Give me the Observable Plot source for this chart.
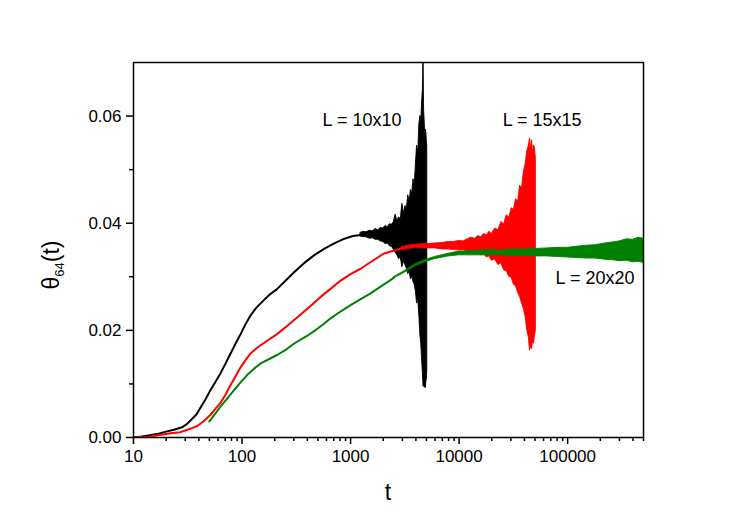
<!DOCTYPE html>
<html><head><meta charset="utf-8">
<script src="https://cdn.jsdelivr.net/npm/d3@7"></script>
<script src="https://cdn.jsdelivr.net/npm/@observablehq/plot@0.6"></script>
<style>body{margin:0;background:#fff}#chart{width:747px;height:524px}</style>
</head><body><div id="chart"></div>
<script>
// ---- Data ----
// L = 10x10 (black), smooth part
const blackT = [10,12,14,17,20,24,28,31,34,38,42,46,51,57,63,70,78,87,97,108,120,135,158,180,210,250,300,370,460,570,700,850,1050,1240];
const blackY = [0,0.0002,0.0004,0.0007,0.0011,0.0015,0.0019,0.0025,0.0033,0.0043,0.0058,0.0071,0.0088,0.0104,0.0119,0.0137,0.0156,0.0175,0.0193,0.0212,0.0228,0.0242,0.0256,0.0267,0.0277,0.0292,0.0308,0.0325,0.034,0.0352,0.0362,0.037,0.0376,0.0378];
// L = 10x10 fluctuating part (envelope)
const blackBandT  = [1240,1320,1400,1500,1600,1700,1800,1900,2000,2100,2200,2300,2400,2500,2600,2700,2800,2900,3000,3100,3200,3300,3400,3500,3600,3700,3800,3900,4000,4100,4200,4300,4400,4480,4560,4640,4700,4760,4820,4880,4940,5000,5050,5090];
const blackBandHi = [0.0382,0.0384,0.0383,0.0386,0.0385,0.0389,0.0387,0.0391,0.039,0.0395,0.0392,0.0398,0.0397,0.0402,0.0416,0.0404,0.0411,0.0407,0.0436,0.0418,0.0432,0.0426,0.0452,0.044,0.0462,0.0455,0.0482,0.047,0.051,0.0545,0.053,0.0585,0.06,0.059,0.0625,0.065,0.072,0.061,0.059,0.056,0.0575,0.0568,0.055,0.0545];
const blackBandLo = [0.0375,0.0374,0.0374,0.0371,0.0372,0.0369,0.0369,0.0366,0.0365,0.0361,0.0362,0.0357,0.0356,0.0351,0.0345,0.034,0.0333,0.0336,0.0318,0.0328,0.0322,0.0315,0.0305,0.031,0.0295,0.03,0.029,0.0285,0.0272,0.025,0.0258,0.0228,0.019,0.0175,0.0145,0.012,0.0095,0.01,0.0093,0.0098,0.0092,0.0105,0.011,0.0125];

// L = 15x15 (red), smooth part
const redT = [10,14,18,22,27,31,35,39,44,51,57,63,70,78,87,97,108,120,135,150,175,210,260,322,420,527,650,810,1000,1236,1600,2014,2500,3000];
const redY = [0,0.0002,0.0005,0.0008,0.001,0.0014,0.0018,0.0022,0.003,0.0042,0.0054,0.0064,0.0079,0.0097,0.0114,0.0131,0.0145,0.0157,0.0166,0.0173,0.0182,0.0193,0.0208,0.0224,0.0244,0.0262,0.0277,0.0293,0.0305,0.0315,0.033,0.0343,0.0349,0.0353];
// L = 15x15 fluctuating part (envelope)
const redBandT  = [3000,4000,5000,6000,7000,8000,9000,10000,11000,12000,13000,14000,15000,16000,17000,18000,19000,20000,21500,23000,24500,26000,27500,29000,30500,32000,33500,35000,36500,38000,39500,41000,42500,44000,45000,46000,47000,48000,49000,50000,51000];
const redBandHi = [0.0356,0.036,0.0361,0.0362,0.0363,0.0365,0.0365,0.0367,0.0366,0.037,0.0373,0.0371,0.0376,0.0374,0.038,0.0377,0.0384,0.038,0.039,0.0387,0.0402,0.0398,0.0415,0.041,0.0428,0.0425,0.0445,0.044,0.047,0.0465,0.0495,0.051,0.0535,0.0545,0.0558,0.054,0.0555,0.053,0.0545,0.054,0.052];
const redBandLo = [0.0350,0.0354,0.0353,0.0353,0.0351,0.0351,0.035,0.0349,0.035,0.0347,0.0347,0.0344,0.0345,0.034,0.0343,0.0336,0.0338,0.033,0.0332,0.0322,0.0325,0.0312,0.031,0.03,0.0298,0.0285,0.0282,0.027,0.0262,0.025,0.024,0.0225,0.02,0.0185,0.0162,0.017,0.0165,0.018,0.0175,0.019,0.02];

// L = 20x20 (green), smooth part
const greenT = [50,56,63,72,84,97,112,130,150,180,210,250,300,350,400,480,566,650,753,870,1000,1500,2000,2500];
const greenY = [0.003,0.0043,0.0057,0.0071,0.0088,0.0103,0.0117,0.0129,0.0139,0.0147,0.0154,0.0163,0.0175,0.0183,0.019,0.0201,0.0212,0.0222,0.0231,0.0239,0.0247,0.0268,0.0285,0.0298];
// L = 20x20 fluctuating part (envelope)
const greenBandT  = [2500,3000,4000,5000,6000,8000,10000,13000,16000,20000,25000,30000,40000,50000,65000,80000,100000,120000,150000,180000,220000,260000,300000,350000,400000,450000,500000];
const greenBandHi = [0.0299,0.0308,0.0324,0.0332,0.0337,0.0343,0.0347,0.0348,0.0349,0.035,0.0349,0.0351,0.0351,0.0352,0.0353,0.0354,0.0354,0.0356,0.0358,0.0359,0.0362,0.0364,0.0366,0.037,0.0369,0.0373,0.0371];
const greenBandLo = [0.0297,0.0305,0.032,0.0328,0.0333,0.0338,0.034,0.034,0.034,0.034,0.034,0.0339,0.0339,0.0338,0.0338,0.0337,0.0336,0.0335,0.0334,0.0334,0.0332,0.0331,0.0329,0.033,0.0327,0.0328,0.0326];

// Labels
const seriesLabels = ["L = 10x10", "L = 15x15", "L = 20x20"];
const labelT = [552, 25180, 77450];
const labelY = [0.0582, 0.0582, 0.0287];

// Ticks
const xMajorTicks = [10, 100, 1000, 10000, 100000];
const xMajorLabels = ["10", "100", "1000", "10000", "100000"];
const xMinorTicks = [20,30,40,50,60,70,80,90,200,300,400,500,600,700,800,900,2000,3000,4000,5000,6000,7000,8000,9000,20000,30000,40000,50000,60000,70000,80000,90000,200000,300000,400000,500000];
const yMajorTicks = [0, 0.02, 0.04, 0.06];
const yMajorLabels = ["0.00", "0.02", "0.04", "0.06"];
const yMinorTicks = [0.01, 0.03, 0.05];

// ---- Build tables ----
const line = (T, Y) => T.map((t, i) => ({t, y: Y[i]}));
const band = (T, H, L) => T.map((t, i) => ({t, hi: H[i], lo: L[i]}));
const blackLine = line(blackT, blackY), redLine = line(redT, redY), greenLine = line(greenT, greenY);
const blackBand = band(blackBandT, blackBandHi, blackBandLo);
const redBand = band(redBandT, redBandHi, redBandLo);
const greenBand = band(greenBandT, greenBandHi, greenBandLo);
const labels = seriesLabels.map((s, i) => ({s, t: labelT[i], y: labelY[i]}));

const colors = {black: "#000000", red: "#ff0000", green: "#008000"};

function series(lineData, bandData, color) {
  return [
    Plot.line(lineData, {x: "t", y: "y", stroke: color, strokeWidth: 2, clip: true}),
    Plot.areaY(bandData, {x: "t", y1: "lo", y2: "hi", fill: color, stroke: color, strokeWidth: 0.9, clip: true})
  ];
}

const plot = Plot.plot({
  width: 747, height: 524,
  marginLeft: 133, marginRight: 104, marginTop: 62, marginBottom: 87,
  style: {fontFamily: "Arial, 'Liberation Sans', sans-serif", fontSize: "17px", color: "black", background: "white"},
  x: {type: "log", domain: [10, 500000]},
  y: {domain: [0, 0.07]},
  marks: [
    ...series(blackLine, blackBand, colors.black),
    ...series(redLine, redBand, colors.red),
    ...series(greenLine, greenBand, colors.green),
    Plot.text(labels, {x: "t", y: "y", text: "s", textAnchor: "start", lineAnchor: "bottom", fontSize: 18, fill: "black"}),
    Plot.axisX({ticks: xMajorTicks, tickSize: 7, tickPadding: 5, strokeWidth: 1.5, label: null,
      tickFormat: d => xMajorLabels[xMajorTicks.indexOf(d)], fontSize: 17}),
    Plot.axisX({ticks: xMinorTicks, tickSize: 4, strokeWidth: 1.5, label: null, tickFormat: () => ""}),
    Plot.axisY({ticks: yMajorTicks, tickSize: 7, tickPadding: 5, strokeWidth: 1.5, label: null,
      tickFormat: d => yMajorLabels[yMajorTicks.indexOf(d)], fontSize: 17}),
    Plot.axisY({ticks: yMinorTicks, tickSize: 4, strokeWidth: 1.5, label: null, tickFormat: () => ""}),
    Plot.frame({stroke: "black", strokeWidth: 1.5})
  ]
});

const svg = d3.select(plot);
// x axis title
svg.append("text")
  .attr("x", 388).attr("y", 500)
  .attr("text-anchor", "middle")
  .attr("font-family", "Arial, 'Liberation Sans', sans-serif")
  .attr("font-size", 23).attr("fill", "black")
  .text("t");
// y axis title with subscript
const yt = svg.append("text")
  .attr("transform", "translate(59,265) rotate(-90)")
  .attr("text-anchor", "middle")
  .attr("font-family", "Arial, 'Liberation Sans', sans-serif")
  .attr("font-size", 23).attr("fill", "black");
yt.append("tspan").text("θ");
yt.append("tspan").attr("font-size", 13).attr("dy", 5).text("64");
yt.append("tspan").attr("dy", -5).text("(t)");

document.getElementById("chart").appendChild(plot);
</script>
</body></html>
